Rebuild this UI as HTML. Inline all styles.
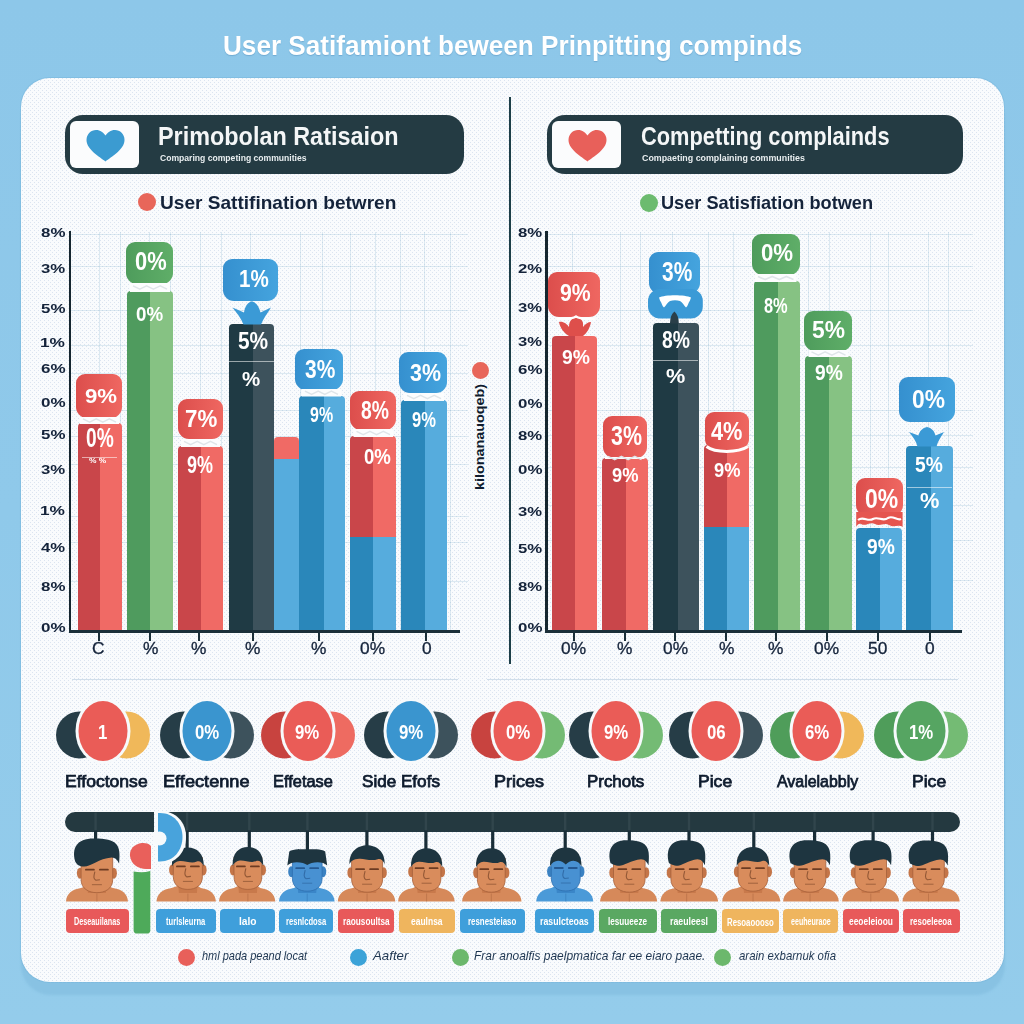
<!DOCTYPE html><html><head><meta charset="utf-8"><title>User Satisfaction</title><style>*{margin:0;padding:0;box-sizing:border-box}html,body{width:1024px;height:1024px;overflow:hidden}body{position:relative;background:linear-gradient(180deg,#8dc7e9 0,#8fc9ea 50%,#94cceb 100%);font-family:"Liberation Sans",sans-serif}.r{position:absolute}.t{position:absolute;white-space:nowrap;transform-origin:0 0;font-weight:bold}</style></head><body>
<div class="r" style="left:21.0px;top:89.0px;width:983.5px;height:905.8px;background:#88c2e3;border-radius:30.0px;filter:blur(0.8px);"></div>
<div class="r" style="left:20.8px;top:77.5px;width:983.6px;height:904.8px;background:#f9fbfd;border-radius:29.0px;box-shadow:0 0 0 1px rgba(110,175,215,0.35);"></div>
<svg class="r" style="left:0;top:0" width="1024" height="1024" viewBox="0 0 1024 1024"><defs><pattern id="dots" width="4" height="4" patternUnits="userSpaceOnUse"><rect x="0" y="0" width="1" height="1" fill="rgba(190,205,228,0.5)"/><rect x="2" y="2" width="1" height="1" fill="rgba(190,205,228,0.5)"/></pattern></defs><rect x="20.8" y="77.5" width="983.6" height="904.8" rx="29" fill="url(#dots)"/></svg>
<div class="t" style="left:223.03px;top:29.80px;font-size:28.55px;line-height:31.891px;color:#ffffff;transform:scaleX(0.9155);text-shadow:0 1px 1px rgba(60,120,170,.35);">User Satifamiont beween Prinpitting compinds</div>
<div class="r" style="left:64.5px;top:115.2px;width:399.0px;height:59.3px;background:#243b43;border-radius:18.0px;"></div>
<div class="r" style="left:70.0px;top:120.8px;width:69.0px;height:47.4px;background:#fbfcfd;border-radius:6.0px;"></div>
<svg class="r" style="left:84.5px;top:129px" width="42" height="34" viewBox="0 0 42 34"><path d="M20.5 32.5 C15 28 1.5 20.5 1.5 11 C1.5 5 6 1 11 1 C15.5 1 18.5 3.5 20.5 6.5 C22.5 3.5 25.5 1 30 1 C35 1 39.5 5 39.5 11 C39.5 20.5 26 28 20.5 32.5 Z" fill="#3b9bd1"/></svg>
<div class="t" style="left:158.36px;top:121.50px;font-size:25.22px;line-height:28.168px;color:#f4f6f7;transform:scaleX(0.9279);">Primobolan Ratisaion</div>
<div class="t" style="left:159.66px;top:153.55px;font-size:8.51px;line-height:9.506px;color:#e9eef0;transform:scaleX(1.0103);">Comparing competing communities</div>
<div class="r" style="left:546.7px;top:115.2px;width:416.1px;height:59.3px;background:#243b43;border-radius:18.0px;"></div>
<div class="r" style="left:552.2px;top:120.8px;width:69.0px;height:47.4px;background:#fbfcfd;border-radius:6.0px;"></div>
<svg class="r" style="left:566.7px;top:129px" width="42" height="34" viewBox="0 0 42 34"><path d="M20.5 32.5 C15 28 1.5 20.5 1.5 11 C1.5 5 6 1 11 1 C15.5 1 18.5 3.5 20.5 6.5 C22.5 3.5 25.5 1 30 1 C35 1 39.5 5 39.5 11 C39.5 20.5 26 28 20.5 32.5 Z" fill="#e8605a"/></svg>
<div class="t" style="left:641.33px;top:121.50px;font-size:25.22px;line-height:28.168px;color:#f4f6f7;transform:scaleX(0.8653);">Competting complainds</div>
<div class="t" style="left:641.85px;top:153.55px;font-size:8.51px;line-height:9.506px;color:#e9eef0;transform:scaleX(1.0422);">Compaeting complaining communities</div>
<div class="r" style="left:137.5px;top:193px;width:18px;height:18px;border-radius:50%;background:#e8665a"></div>
<div class="t" style="left:160.45px;top:192.25px;font-size:19.28px;line-height:21.531px;color:#14233a;transform:scaleX(0.9902);">User Sattifination betwren</div>
<div class="r" style="left:639.5px;top:194px;width:18px;height:18px;border-radius:50%;background:#6cbb6f"></div>
<div class="t" style="left:660.71px;top:192.45px;font-size:19.28px;line-height:21.531px;color:#14233a;transform:scaleX(0.9433);">User Satisfiation botwen</div>
<div class="r" style="left:509.3px;top:97.0px;width:2.1px;height:566.5px;background:#1d3f48;"></div>
<div class="r" style="left:98.5px;top:232.0px;width:1.0px;height:399.7px;background:rgba(120,170,200,0.22);"></div>
<div class="r" style="left:119.5px;top:232.0px;width:1.0px;height:399.7px;background:rgba(120,170,200,0.22);"></div>
<div class="r" style="left:148.5px;top:232.0px;width:1.0px;height:399.7px;background:rgba(120,170,200,0.22);"></div>
<div class="r" style="left:169.5px;top:232.0px;width:1.0px;height:399.7px;background:rgba(120,170,200,0.22);"></div>
<div class="r" style="left:199.5px;top:232.0px;width:1.0px;height:399.7px;background:rgba(120,170,200,0.22);"></div>
<div class="r" style="left:220.5px;top:232.0px;width:1.0px;height:399.7px;background:rgba(120,170,200,0.22);"></div>
<div class="r" style="left:249.5px;top:232.0px;width:1.0px;height:399.7px;background:rgba(120,170,200,0.22);"></div>
<div class="r" style="left:299.5px;top:232.0px;width:1.0px;height:399.7px;background:rgba(120,170,200,0.22);"></div>
<div class="r" style="left:321.5px;top:232.0px;width:1.0px;height:399.7px;background:rgba(120,170,200,0.22);"></div>
<div class="r" style="left:349.5px;top:232.0px;width:1.0px;height:399.7px;background:rgba(120,170,200,0.22);"></div>
<div class="r" style="left:374.5px;top:232.0px;width:1.0px;height:399.7px;background:rgba(120,170,200,0.22);"></div>
<div class="r" style="left:399.5px;top:232.0px;width:1.0px;height:399.7px;background:rgba(120,170,200,0.22);"></div>
<div class="r" style="left:423.5px;top:232.0px;width:1.0px;height:399.7px;background:rgba(120,170,200,0.22);"></div>
<div class="r" style="left:449.5px;top:232.0px;width:1.0px;height:399.7px;background:rgba(120,170,200,0.22);"></div>
<div class="r" style="left:70.2px;top:233.5px;width:397.8px;height:1.0px;background:rgba(120,170,200,0.22);"></div>
<div class="r" style="left:70.2px;top:265.5px;width:397.8px;height:1.0px;background:rgba(120,170,200,0.22);"></div>
<div class="r" style="left:70.2px;top:309.5px;width:397.8px;height:1.0px;background:rgba(120,170,200,0.22);"></div>
<div class="r" style="left:70.2px;top:345.1px;width:397.8px;height:1.0px;background:rgba(120,170,200,0.22);"></div>
<div class="r" style="left:70.2px;top:372.9px;width:397.8px;height:1.0px;background:rgba(120,170,200,0.22);"></div>
<div class="r" style="left:70.2px;top:410.4px;width:397.8px;height:1.0px;background:rgba(120,170,200,0.22);"></div>
<div class="r" style="left:70.2px;top:436.1px;width:397.8px;height:1.0px;background:rgba(120,170,200,0.22);"></div>
<div class="r" style="left:70.2px;top:464.3px;width:397.8px;height:1.0px;background:rgba(120,170,200,0.22);"></div>
<div class="r" style="left:70.2px;top:515.8px;width:397.8px;height:1.0px;background:rgba(120,170,200,0.22);"></div>
<div class="r" style="left:70.2px;top:541.5px;width:397.8px;height:1.0px;background:rgba(120,170,200,0.22);"></div>
<div class="r" style="left:70.2px;top:581.3px;width:397.8px;height:1.0px;background:rgba(120,170,200,0.22);"></div>
<div class="r" style="left:77.5px;top:423.0px;width:44.7px;height:208.0px;background:linear-gradient(90deg,#c9464a 0,#c9464a 49.89%,#f06a65 49.89%,#f06a65 100%);border-radius:4px 4px 0 0;"></div>
<div class="r" style="left:127.2px;top:291.0px;width:45.8px;height:340.0px;background:linear-gradient(90deg,#4f9b5e 0,#4f9b5e 50.87%,#86c283 50.87%,#86c283 100%);border-radius:4px 4px 0 0;"></div>
<div class="r" style="left:177.6px;top:446.0px;width:45.7px;height:185.0px;background:linear-gradient(90deg,#c9464a 0,#c9464a 50.33%,#f06a65 50.33%,#f06a65 100%);border-radius:4px 4px 0 0;"></div>
<div class="r" style="left:228.5px;top:324.0px;width:45.7px;height:307.0px;background:linear-gradient(90deg,#1f3a44 0,#1f3a44 52.74%,#3d525c 52.74%,#3d525c 100%);border-radius:4px 4px 0 0;"></div>
<div class="r" style="left:274.2px;top:437.3px;width:24.6px;height:21.7px;background:linear-gradient(90deg,#f06a65 0,#f06a65 47.97%,#f06a65 47.97%,#f06a65 100%);border-radius:4px 4px 0 0;"></div>
<div class="r" style="left:274.2px;top:459.0px;width:24.6px;height:172.0px;background:linear-gradient(90deg,#56acdd 0,#56acdd 47.97%,#56acdd 47.97%,#56acdd 100%);"></div>
<div class="r" style="left:299.0px;top:395.6px;width:45.8px;height:235.4px;background:linear-gradient(90deg,#2a87ba 0,#2a87ba 53.93%,#56acdd 53.93%,#56acdd 100%);border-radius:4px 4px 0 0;"></div>
<div class="r" style="left:350.0px;top:436.0px;width:46.4px;height:100.7px;background:linear-gradient(90deg,#c9464a 0,#c9464a 51.08%,#f06a65 51.08%,#f06a65 100%);border-radius:4px 4px 0 0;"></div>
<div class="r" style="left:350.0px;top:536.7px;width:46.4px;height:94.3px;background:linear-gradient(90deg,#2a87ba 0,#2a87ba 51.08%,#56acdd 51.08%,#56acdd 100%);"></div>
<div class="r" style="left:400.6px;top:400.3px;width:46.9px;height:230.7px;background:linear-gradient(90deg,#2a87ba 0,#2a87ba 53.09%,#56acdd 53.09%,#56acdd 100%);border-radius:4px 4px 0 0;"></div>
<div class="r" style="left:76.0px;top:373.5px;width:46.3px;height:44.5px;background:linear-gradient(90deg,#dc4e4c,#ef6761);border-radius:9px 9px 11px 11px;"></div><div class="t" style="left:84.73px;top:384.67px;font-size:20.14px;line-height:22.497px;color:#ffffff;transform:scaleX(1.1037);">9%</div>
<div class="r" style="left:126.2px;top:241.8px;width:46.6px;height:41.9px;background:linear-gradient(90deg,#4e9c5c,#5fae68);border-radius:9px 9px 11px 11px;"></div><div class="t" style="left:135.42px;top:248.21px;font-size:24.93px;line-height:27.846px;color:#ffffff;transform:scaleX(0.8778);">0%</div>
<div class="r" style="left:177.7px;top:398.7px;width:45.2px;height:40.8px;background:linear-gradient(90deg,#dc4e4c,#ef6761);border-radius:9px 9px 11px 11px;"></div><div class="t" style="left:184.91px;top:405.24px;font-size:24.79px;line-height:27.689px;color:#ffffff;transform:scaleX(0.9004);">7%</div>
<div class="r" style="left:223.3px;top:259.0px;width:54.7px;height:42.0px;background:linear-gradient(90deg,#3590cf,#45a4de);border-radius:9px 9px 11px 11px;"></div><div class="t" style="left:238.96px;top:266.20px;font-size:23.52px;line-height:26.273px;color:#ffffff;transform:scaleX(0.8753);">1%</div>
<div class="r" style="left:295.0px;top:348.7px;width:48.2px;height:41.1px;background:linear-gradient(90deg,#3590cf,#45a4de);border-radius:9px 9px 11px 11px;"></div><div class="t" style="left:305.28px;top:355.23px;font-size:26.34px;line-height:29.420px;color:#ffffff;transform:scaleX(0.7946);">3%</div>
<div class="r" style="left:350.2px;top:390.5px;width:46.2px;height:39.1px;background:linear-gradient(90deg,#dc4e4c,#ef6761);border-radius:9px 9px 11px 11px;"></div><div class="t" style="left:361.42px;top:396.23px;font-size:26.34px;line-height:29.420px;color:#ffffff;transform:scaleX(0.7348);">8%</div>
<div class="r" style="left:398.7px;top:352.3px;width:48.8px;height:41.0px;background:linear-gradient(90deg,#3590cf,#45a4de);border-radius:9px 9px 11px 11px;"></div><div class="t" style="left:409.57px;top:359.04px;font-size:24.79px;line-height:27.689px;color:#ffffff;transform:scaleX(0.8644);">3%</div>
<div class="t" style="left:86.43px;top:423.11px;font-size:27.46px;line-height:30.678px;color:#ffffff;transform:scaleX(0.6992);">0%</div>
<div class="r" style="left:82.2px;top:456.6px;width:34.4px;height:1.2px;background:rgba(255,255,255,0.55);"></div>
<div class="t" style="left:135.55px;top:302.94px;font-size:20.28px;line-height:22.655px;color:#ffffff;transform:scaleX(0.9254);">0%</div>
<div class="t" style="left:186.66px;top:452.88px;font-size:23.10px;line-height:25.801px;color:#ffffff;transform:scaleX(0.7786);">9%</div>
<div class="t" style="left:237.87px;top:328.12px;font-size:23.38px;line-height:26.116px;color:#ffffff;transform:scaleX(0.8923);">5%</div>
<div class="r" style="left:229.0px;top:360.6px;width:45.0px;height:1.2px;background:rgba(255,255,255,0.55);"></div>
<div class="t" style="left:242.39px;top:366.67px;font-size:21.13px;line-height:23.599px;color:#ffffff;transform:scaleX(0.9692);">%</div>
<div class="t" style="left:309.92px;top:404.22px;font-size:21.41px;line-height:23.913px;color:#ffffff;transform:scaleX(0.7460);">9%</div>
<div class="t" style="left:363.56px;top:445.19px;font-size:21.55px;line-height:24.071px;color:#ffffff;transform:scaleX(0.8642);">0%</div>
<div class="t" style="left:411.80px;top:408.92px;font-size:21.41px;line-height:23.913px;color:#ffffff;transform:scaleX(0.7729);">9%</div>
<div class="r" style="left:68.9px;top:231.0px;width:2.6px;height:402.2px;background:#15262f;"></div>
<div class="r" style="left:68.9px;top:630.2px;width:391.4px;height:3.3px;background:#1b2f39;"></div>
<div class="t" style="left:40.99px;top:226.78px;font-size:12.11px;line-height:13.530px;color:#14233a;transform:scaleX(1.3958);">8%</div>
<div class="t" style="left:41.16px;top:263.28px;font-size:12.11px;line-height:13.530px;color:#14233a;transform:scaleX(1.3858);">3%</div>
<div class="t" style="left:40.99px;top:303.28px;font-size:12.11px;line-height:13.530px;color:#14233a;transform:scaleX(1.3958);">5%</div>
<div class="t" style="left:40.46px;top:336.78px;font-size:12.11px;line-height:13.530px;color:#14233a;transform:scaleX(1.4266);">1%</div>
<div class="t" style="left:40.82px;top:362.78px;font-size:12.11px;line-height:13.530px;color:#14233a;transform:scaleX(1.4059);">6%</div>
<div class="t" style="left:40.82px;top:396.88px;font-size:12.11px;line-height:13.530px;color:#14233a;transform:scaleX(1.4059);">0%</div>
<div class="t" style="left:40.99px;top:428.78px;font-size:12.11px;line-height:13.530px;color:#14233a;transform:scaleX(1.3958);">5%</div>
<div class="t" style="left:41.16px;top:463.78px;font-size:12.11px;line-height:13.530px;color:#14233a;transform:scaleX(1.3858);">3%</div>
<div class="t" style="left:40.46px;top:504.78px;font-size:12.11px;line-height:13.530px;color:#14233a;transform:scaleX(1.4266);">1%</div>
<div class="t" style="left:41.33px;top:542.28px;font-size:12.11px;line-height:13.530px;color:#14233a;transform:scaleX(1.3760);">4%</div>
<div class="t" style="left:40.99px;top:580.88px;font-size:12.11px;line-height:13.530px;color:#14233a;transform:scaleX(1.3958);">8%</div>
<div class="t" style="left:40.82px;top:621.98px;font-size:12.11px;line-height:13.530px;color:#14233a;transform:scaleX(1.4059);">0%</div>
<div class="r" style="left:97.6px;top:631.7px;width:2.0px;height:9.5px;background:#1b2f39;"></div>
<div class="t" style="left:92.28px;top:639.14px;font-size:16.50px;line-height:18.430px;color:#14233a;font-weight:normal;transform:scaleX(1.0500);-webkit-text-stroke:0.3px #14233a;">C</div>
<div class="r" style="left:149.4px;top:631.7px;width:2.0px;height:9.5px;background:#1b2f39;"></div>
<div class="t" style="left:142.78px;top:639.06px;font-size:16.50px;line-height:18.430px;color:#14233a;font-weight:normal;transform:scaleX(1.0500);-webkit-text-stroke:0.3px #14233a;">%</div>
<div class="r" style="left:198.0px;top:631.7px;width:2.0px;height:9.5px;background:#1b2f39;"></div>
<div class="t" style="left:191.38px;top:639.06px;font-size:16.50px;line-height:18.430px;color:#14233a;font-weight:normal;transform:scaleX(1.0500);-webkit-text-stroke:0.3px #14233a;">%</div>
<div class="r" style="left:251.6px;top:631.7px;width:2.0px;height:9.5px;background:#1b2f39;"></div>
<div class="t" style="left:244.98px;top:639.06px;font-size:16.50px;line-height:18.430px;color:#14233a;font-weight:normal;transform:scaleX(1.0500);-webkit-text-stroke:0.3px #14233a;">%</div>
<div class="r" style="left:317.5px;top:631.7px;width:2.0px;height:9.5px;background:#1b2f39;"></div>
<div class="t" style="left:310.88px;top:639.06px;font-size:16.50px;line-height:18.430px;color:#14233a;font-weight:normal;transform:scaleX(1.0500);-webkit-text-stroke:0.3px #14233a;">%</div>
<div class="r" style="left:371.5px;top:631.7px;width:2.0px;height:9.5px;background:#1b2f39;"></div>
<div class="t" style="left:359.94px;top:639.14px;font-size:16.50px;line-height:18.430px;color:#14233a;font-weight:normal;transform:scaleX(1.0500);-webkit-text-stroke:0.3px #14233a;">0%</div>
<div class="r" style="left:425.4px;top:631.7px;width:2.0px;height:9.5px;background:#1b2f39;"></div>
<div class="t" style="left:421.55px;top:639.14px;font-size:16.50px;line-height:18.430px;color:#14233a;font-weight:normal;transform:scaleX(1.0500);-webkit-text-stroke:0.3px #14233a;">0</div>
<div class="r" style="left:572.1px;top:232.0px;width:1.0px;height:399.7px;background:rgba(120,170,200,0.22);"></div>
<div class="r" style="left:620.2px;top:232.0px;width:1.0px;height:399.7px;background:rgba(120,170,200,0.22);"></div>
<div class="r" style="left:639.5px;top:232.0px;width:1.0px;height:399.7px;background:rgba(120,170,200,0.22);"></div>
<div class="r" style="left:671.8px;top:232.0px;width:1.0px;height:399.7px;background:rgba(120,170,200,0.22);"></div>
<div class="r" style="left:708.4px;top:232.0px;width:1.0px;height:399.7px;background:rgba(120,170,200,0.22);"></div>
<div class="r" style="left:732.5px;top:232.0px;width:1.0px;height:399.7px;background:rgba(120,170,200,0.22);"></div>
<div class="r" style="left:807.5px;top:232.0px;width:1.0px;height:399.7px;background:rgba(120,170,200,0.22);"></div>
<div class="r" style="left:829.0px;top:232.0px;width:1.0px;height:399.7px;background:rgba(120,170,200,0.22);"></div>
<div class="r" style="left:869.5px;top:232.0px;width:1.0px;height:399.7px;background:rgba(120,170,200,0.22);"></div>
<div class="r" style="left:887.5px;top:232.0px;width:1.0px;height:399.7px;background:rgba(120,170,200,0.22);"></div>
<div class="r" style="left:928.0px;top:232.0px;width:1.0px;height:399.7px;background:rgba(120,170,200,0.22);"></div>
<div class="r" style="left:948.4px;top:232.0px;width:1.0px;height:399.7px;background:rgba(120,170,200,0.22);"></div>
<div class="r" style="left:546.6px;top:234.2px;width:426.4px;height:1.0px;background:rgba(120,170,200,0.22);"></div>
<div class="r" style="left:546.6px;top:266.0px;width:426.4px;height:1.0px;background:rgba(120,170,200,0.22);"></div>
<div class="r" style="left:546.6px;top:309.5px;width:426.4px;height:1.0px;background:rgba(120,170,200,0.22);"></div>
<div class="r" style="left:546.6px;top:345.2px;width:426.4px;height:1.0px;background:rgba(120,170,200,0.22);"></div>
<div class="r" style="left:546.6px;top:410.0px;width:426.4px;height:1.0px;background:rgba(120,170,200,0.22);"></div>
<div class="r" style="left:546.6px;top:435.3px;width:426.4px;height:1.0px;background:rgba(120,170,200,0.22);"></div>
<div class="r" style="left:546.6px;top:467.1px;width:426.4px;height:1.0px;background:rgba(120,170,200,0.22);"></div>
<div class="r" style="left:546.6px;top:504.5px;width:426.4px;height:1.0px;background:rgba(120,170,200,0.22);"></div>
<div class="r" style="left:546.6px;top:539.5px;width:426.4px;height:1.0px;background:rgba(120,170,200,0.22);"></div>
<div class="r" style="left:546.6px;top:579.5px;width:426.4px;height:1.0px;background:rgba(120,170,200,0.22);"></div>
<div class="r" style="left:552.0px;top:336.0px;width:45.3px;height:295.0px;background:linear-gradient(90deg,#c9464a 0,#c9464a 50.77%,#f06a65 50.77%,#f06a65 100%);border-radius:4px 4px 0 0;"></div>
<div class="r" style="left:601.7px;top:458.3px;width:46.3px;height:172.7px;background:linear-gradient(90deg,#c9464a 0,#c9464a 52.05%,#f06a65 52.05%,#f06a65 100%);border-radius:4px 4px 0 0;"></div>
<div class="r" style="left:652.8px;top:323.0px;width:45.9px;height:308.0px;background:linear-gradient(90deg,#1f3a44 0,#1f3a44 53.59%,#3d525c 53.59%,#3d525c 100%);border-radius:4px 4px 0 0;"></div>
<div class="r" style="left:703.8px;top:445.0px;width:45.7px;height:81.8px;background:linear-gradient(90deg,#c9464a 0,#c9464a 51.64%,#f06a65 51.64%,#f06a65 100%);border-radius:4px 4px 0 0;"></div>
<div class="r" style="left:703.8px;top:526.8px;width:45.7px;height:104.2px;background:linear-gradient(90deg,#2a87ba 0,#2a87ba 51.64%,#56acdd 51.64%,#56acdd 100%);"></div>
<div class="r" style="left:754.0px;top:281.0px;width:45.8px;height:350.0px;background:linear-gradient(90deg,#4f9b5e 0,#4f9b5e 51.31%,#86c283 51.31%,#86c283 100%);border-radius:4px 4px 0 0;"></div>
<div class="r" style="left:805.4px;top:355.9px;width:46.5px;height:275.1px;background:linear-gradient(90deg,#4f9b5e 0,#4f9b5e 51.83%,#86c283 51.83%,#86c283 100%);border-radius:4px 4px 0 0;"></div>
<div class="r" style="left:856.0px;top:527.6px;width:46.0px;height:103.4px;background:linear-gradient(90deg,#2a87ba 0,#2a87ba 51.74%,#56acdd 51.74%,#56acdd 100%);border-radius:4px 4px 0 0;"></div>
<div class="r" style="left:906.2px;top:446.3px;width:46.5px;height:184.7px;background:linear-gradient(90deg,#2a87ba 0,#2a87ba 53.33%,#56acdd 53.33%,#56acdd 100%);border-radius:4px 4px 0 0;"></div>
<div class="r" style="left:548.0px;top:272.0px;width:52.3px;height:45.3px;background:linear-gradient(90deg,#dc4e4c,#ef6761);border-radius:9px 9px 11px 11px;"></div><div class="t" style="left:559.66px;top:278.80px;font-size:24.51px;line-height:27.374px;color:#ffffff;transform:scaleX(0.8660);">9%</div>
<div class="r" style="left:602.7px;top:415.7px;width:44.5px;height:42.3px;background:linear-gradient(90deg,#dc4e4c,#ef6761);border-radius:9px 9px 11px 11px;"></div><div class="t" style="left:610.57px;top:420.54px;font-size:27.32px;line-height:30.521px;color:#ffffff;transform:scaleX(0.7842);">3%</div>
<div class="r" style="left:648.6px;top:252.2px;width:51.7px;height:41.8px;background:linear-gradient(90deg,#3590cf,#45a4de);border-radius:9px 9px 11px 11px;"></div><div class="t" style="left:662.28px;top:257.01px;font-size:27.46px;line-height:30.678px;color:#ffffff;transform:scaleX(0.7620);">3%</div>
<div class="r" style="left:704.6px;top:411.7px;width:44.2px;height:38.3px;background:linear-gradient(90deg,#dc4e4c,#ef6761);border-radius:9px 9px 11px 11px;"></div><div class="t" style="left:711.08px;top:417.29px;font-size:26.06px;line-height:29.105px;color:#ffffff;transform:scaleX(0.8356);">4%</div>
<div class="r" style="left:751.5px;top:234.0px;width:48.3px;height:40.6px;background:linear-gradient(90deg,#4e9c5c,#5fae68);border-radius:9px 9px 11px 11px;"></div><div class="t" style="left:761.11px;top:240.75px;font-size:23.24px;line-height:25.958px;color:#ffffff;transform:scaleX(0.9573);">0%</div>
<div class="r" style="left:804.0px;top:311.0px;width:47.9px;height:39.8px;background:linear-gradient(90deg,#4e9c5c,#5fae68);border-radius:9px 9px 11px 11px;"></div><div class="t" style="left:812.32px;top:318.15px;font-size:23.24px;line-height:25.958px;color:#ffffff;transform:scaleX(0.9813);">5%</div>
<div class="r" style="left:856.2px;top:478.0px;width:46.4px;height:38.0px;background:linear-gradient(90deg,#dc4e4c,#ef6761);border-radius:9px 9px 11px 11px;"></div><div class="t" style="left:865.38px;top:484.12px;font-size:26.90px;line-height:30.049px;color:#ffffff;transform:scaleX(0.8539);">0%</div>
<div class="r" style="left:899.3px;top:377.4px;width:55.9px;height:44.5px;background:linear-gradient(90deg,#3590cf,#45a4de);border-radius:9px 9px 11px 11px;"></div><div class="t" style="left:911.89px;top:385.09px;font-size:25.07px;line-height:28.004px;color:#ffffff;transform:scaleX(0.9105);">0%</div>
<div class="t" style="left:561.52px;top:346.06px;font-size:19.72px;line-height:22.025px;color:#ffffff;transform:scaleX(0.9814);">9%</div>
<div class="t" style="left:612.25px;top:463.07px;font-size:21.13px;line-height:23.599px;color:#ffffff;transform:scaleX(0.8683);">9%</div>
<div class="t" style="left:662.32px;top:327.88px;font-size:23.10px;line-height:25.801px;color:#ffffff;transform:scaleX(0.8378);">8%</div>
<div class="r" style="left:653.0px;top:360.0px;width:45.0px;height:1.2px;background:rgba(255,255,255,0.55);"></div>
<div class="t" style="left:666.47px;top:364.83px;font-size:19.86px;line-height:22.183px;color:#ffffff;transform:scaleX(1.0910);">%</div>
<div class="t" style="left:714.25px;top:459.06px;font-size:19.72px;line-height:22.025px;color:#ffffff;transform:scaleX(0.9304);">9%</div>
<div class="t" style="left:764.31px;top:293.75px;font-size:22.25px;line-height:24.857px;color:#ffffff;transform:scaleX(0.7371);">8%</div>
<div class="t" style="left:814.92px;top:361.72px;font-size:21.41px;line-height:23.913px;color:#ffffff;transform:scaleX(0.8972);">9%</div>
<div class="t" style="left:867.02px;top:536.02px;font-size:21.41px;line-height:23.913px;color:#ffffff;transform:scaleX(0.8972);">9%</div>
<div class="t" style="left:915.22px;top:453.52px;font-size:21.41px;line-height:23.913px;color:#ffffff;transform:scaleX(0.8972);">5%</div>
<div class="r" style="left:907.0px;top:487.1px;width:45.0px;height:1.2px;background:rgba(255,255,255,0.55);"></div>
<div class="t" style="left:919.96px;top:488.99px;font-size:21.55px;line-height:24.071px;color:#ffffff;transform:scaleX(1.0110);">%</div>
<div class="r" style="left:545.3px;top:231.0px;width:2.6px;height:402.2px;background:#15262f;"></div>
<div class="r" style="left:545.3px;top:630.2px;width:416.7px;height:3.3px;background:#1b2f39;"></div>
<div class="t" style="left:518.00px;top:226.78px;font-size:12.11px;line-height:13.530px;color:#14233a;transform:scaleX(1.3839);">8%</div>
<div class="t" style="left:518.00px;top:262.98px;font-size:12.11px;line-height:13.530px;color:#14233a;transform:scaleX(1.3839);">2%</div>
<div class="t" style="left:518.17px;top:302.28px;font-size:12.11px;line-height:13.530px;color:#14233a;transform:scaleX(1.3740);">3%</div>
<div class="t" style="left:518.17px;top:336.28px;font-size:12.11px;line-height:13.530px;color:#14233a;transform:scaleX(1.3740);">3%</div>
<div class="t" style="left:517.82px;top:364.28px;font-size:12.11px;line-height:13.530px;color:#14233a;transform:scaleX(1.3939);">6%</div>
<div class="t" style="left:517.82px;top:398.28px;font-size:12.11px;line-height:13.530px;color:#14233a;transform:scaleX(1.3939);">0%</div>
<div class="t" style="left:518.00px;top:430.08px;font-size:12.11px;line-height:13.530px;color:#14233a;transform:scaleX(1.3839);">8%</div>
<div class="t" style="left:517.82px;top:463.78px;font-size:12.11px;line-height:13.530px;color:#14233a;transform:scaleX(1.3939);">0%</div>
<div class="t" style="left:518.17px;top:505.68px;font-size:12.11px;line-height:13.530px;color:#14233a;transform:scaleX(1.3740);">3%</div>
<div class="t" style="left:518.00px;top:542.98px;font-size:12.11px;line-height:13.530px;color:#14233a;transform:scaleX(1.3839);">5%</div>
<div class="t" style="left:518.00px;top:580.58px;font-size:12.11px;line-height:13.530px;color:#14233a;transform:scaleX(1.3839);">8%</div>
<div class="t" style="left:517.82px;top:622.48px;font-size:12.11px;line-height:13.530px;color:#14233a;transform:scaleX(1.3939);">0%</div>
<div class="r" style="left:572.8px;top:631.7px;width:2.0px;height:9.5px;background:#1b2f39;"></div>
<div class="t" style="left:561.24px;top:639.14px;font-size:16.50px;line-height:18.430px;color:#14233a;font-weight:normal;transform:scaleX(1.0500);-webkit-text-stroke:0.3px #14233a;">0%</div>
<div class="r" style="left:623.6px;top:631.7px;width:2.0px;height:9.5px;background:#1b2f39;"></div>
<div class="t" style="left:616.98px;top:639.06px;font-size:16.50px;line-height:18.430px;color:#14233a;font-weight:normal;transform:scaleX(1.0500);-webkit-text-stroke:0.3px #14233a;">%</div>
<div class="r" style="left:674.4px;top:631.7px;width:2.0px;height:9.5px;background:#1b2f39;"></div>
<div class="t" style="left:662.84px;top:639.14px;font-size:16.50px;line-height:18.430px;color:#14233a;font-weight:normal;transform:scaleX(1.0500);-webkit-text-stroke:0.3px #14233a;">0%</div>
<div class="r" style="left:725.2px;top:631.7px;width:2.0px;height:9.5px;background:#1b2f39;"></div>
<div class="t" style="left:718.58px;top:639.06px;font-size:16.50px;line-height:18.430px;color:#14233a;font-weight:normal;transform:scaleX(1.0500);-webkit-text-stroke:0.3px #14233a;">%</div>
<div class="r" style="left:775.0px;top:631.7px;width:2.0px;height:9.5px;background:#1b2f39;"></div>
<div class="t" style="left:768.38px;top:639.06px;font-size:16.50px;line-height:18.430px;color:#14233a;font-weight:normal;transform:scaleX(1.0500);-webkit-text-stroke:0.3px #14233a;">%</div>
<div class="r" style="left:826.0px;top:631.7px;width:2.0px;height:9.5px;background:#1b2f39;"></div>
<div class="t" style="left:814.44px;top:639.14px;font-size:16.50px;line-height:18.430px;color:#14233a;font-weight:normal;transform:scaleX(1.0500);-webkit-text-stroke:0.3px #14233a;">0%</div>
<div class="r" style="left:876.8px;top:631.7px;width:2.0px;height:9.5px;background:#1b2f39;"></div>
<div class="t" style="left:868.18px;top:639.14px;font-size:16.50px;line-height:18.430px;color:#14233a;font-weight:normal;transform:scaleX(1.0500);-webkit-text-stroke:0.3px #14233a;">50</div>
<div class="r" style="left:928.8px;top:631.7px;width:2.0px;height:9.5px;background:#1b2f39;"></div>
<div class="t" style="left:924.95px;top:639.14px;font-size:16.50px;line-height:18.430px;color:#14233a;font-weight:normal;transform:scaleX(1.0500);-webkit-text-stroke:0.3px #14233a;">0</div>
<div class="r" style="left:471.8px;top:361.8px;width:17px;height:17px;border-radius:50%;background:#e8665a"></div>
<div class="t" style="left:473.28px;top:490.31px;font-size:13.09px;line-height:14.616px;color:#0f1c2e;transform:rotate(-90deg) scaleX(1.0985)">kilonanauoqeb)</div>
<div class="r" style="left:72.0px;top:678.5px;width:386.0px;height:1.0px;background:rgba(150,180,205,0.4);"></div>
<div class="r" style="left:487.0px;top:678.5px;width:471.0px;height:1.0px;background:rgba(150,180,205,0.4);"></div>
<div class="t" style="left:89.39px;top:457.12px;font-size:7.00px;line-height:7.819px;color:#ffffff;transform:scaleX(1.2000);">% %</div>
<svg class="r" style="left:0;top:0" width="1024" height="1024" viewBox="0 0 1024 1024"><rect x="80.0" y="417.0" width="39.0" height="7.0" fill="#fcfdfe"/><polyline points="83.0,418.9 89.6,422.1 96.2,418.9 102.8,422.1 109.4,418.9 116.0,422.1" fill="none" stroke="#dfe5e9" stroke-width="1.6" stroke-linejoin="round"/><rect x="130.0" y="283.0" width="40.0" height="9.0" fill="#fcfdfe"/><polyline points="133.0,285.9 139.8,289.1 146.6,285.9 153.4,289.1 160.2,285.9 167.0,289.1" fill="none" stroke="#dfe5e9" stroke-width="1.6" stroke-linejoin="round"/><rect x="181.0" y="439.0" width="39.0" height="8.0" fill="#fcfdfe"/><polyline points="184.0,441.4 190.6,444.6 197.2,441.4 203.8,444.6 210.4,441.4 217.0,444.6" fill="none" stroke="#dfe5e9" stroke-width="1.6" stroke-linejoin="round"/><rect x="302.0" y="389.0" width="39.0" height="7.5" fill="#fcfdfe"/><polyline points="305.0,391.1 311.6,394.4 318.2,391.1 324.8,394.4 331.4,391.1 338.0,394.4" fill="none" stroke="#dfe5e9" stroke-width="1.6" stroke-linejoin="round"/><rect x="353.5" y="429.0" width="39.5" height="8.0" fill="#fcfdfe"/><polyline points="356.5,431.4 363.2,434.6 369.9,431.4 376.6,434.6 383.3,431.4 390.0,434.6" fill="none" stroke="#dfe5e9" stroke-width="1.6" stroke-linejoin="round"/><rect x="404.0" y="393.0" width="40.0" height="8.0" fill="#fcfdfe"/><polyline points="407.0,395.4 413.8,398.6 420.6,395.4 427.4,398.6 434.2,395.4 441.0,398.6" fill="none" stroke="#dfe5e9" stroke-width="1.6" stroke-linejoin="round"/><rect x="755.0" y="274.0" width="41.5" height="8.0" fill="#fcfdfe"/><polyline points="758.0,276.4 765.1,279.6 772.2,276.4 779.3,279.6 786.4,276.4 793.5,279.6" fill="none" stroke="#dfe5e9" stroke-width="1.6" stroke-linejoin="round"/><rect x="808.5" y="350.0" width="40.0" height="7.0" fill="#fcfdfe"/><polyline points="811.5,351.9 818.3,355.1 825.1,351.9 831.9,355.1 838.7,351.9 845.5,355.1" fill="none" stroke="#dfe5e9" stroke-width="1.6" stroke-linejoin="round"/><rect x="605.0" y="457.0" width="39.5" height="2.0" fill="#fcfdfe"/><polyline points="608.0,456.4 614.7,459.6 621.4,456.4 628.1,459.6 634.8,456.4 641.5,459.6" fill="none" stroke="#dfe5e9" stroke-width="1.6" stroke-linejoin="round"/><path d="M 232.5 307.5 L 244 312.5 C 245 306 248 302.5 252 301.3 C 256 302.5 259 306 260.5 312.5 L 271 307.5 C 267.5 313 263.5 318.5 261 324.5 L 243.5 324.5 C 241 318.5 237 313 232.5 307.5 Z" fill="#3b9ad6"/><path d="M 559 322 C 563 321 567 324 569 327 C 569 320 573 317.5 576 317.5 C 580 317.5 584 320 583 327 C 585 324 588 322 591 322 C 590 328 587 333 583 336 L 569 336 C 564 333 560 328 559 322 Z" fill="#de4f4b"/><path d="M 557 319.5 C 565 318 570 320 576 316.5 C 582 320 588 318 595 319.5" fill="none" stroke="#ffffff" stroke-width="2.4"/><rect x="648" y="289" width="54.8" height="29.6" rx="12" fill="#3b9ad6"/><ellipse cx="646.5" cy="292" rx="3" ry="2.6" fill="#f6f9fc"/><ellipse cx="704.3" cy="292" rx="3" ry="2.6" fill="#f6f9fc"/><path d="M 659 297.5 C 665 294.5 685 294.5 691 297.5 L 690 300.5 C 688 303 688 306 686 307.5 C 684 306 683 302.5 680 301 C 677 300 673 300 670 301 C 667 302.5 666 306 664 307.5 C 662 306 662 303 660 300.5 Z" fill="#ffffff"/><path d="M 674.4 311.5 C 677.5 314 678.8 318 678.8 323.5 L 670 323.5 C 670 318 671.3 314 674.4 311.5 Z" fill="#2a3f49"/><path d="M 706.5 446.5 C 715 453 738 453 748 446.5" fill="none" stroke="#ffffff" stroke-width="3"/><path d="M 909 432 L 918.5 435.5 C 919.5 431 922.5 428 927 427 C 931.5 428 934.5 431 935.5 435.5 L 944 432 C 941 437 938 441 936.5 446.5 L 917.5 446.5 C 916 441 913 437 909 432 Z" fill="#3b9ad6"/><path d="M 856.2 512 L 902.6 512 L 902.6 527 C 898 524 894 528 889 525 C 884 522 880 527 875 524 C 870 521 866 527 861 524 C 859 523 857 525 856.2 527 Z" fill="#e5554f"/><path d="M 858 520 C 863 516 868 522 873 519 C 878 516 883 522 888 518 C 893 515 897 521 901 519" fill="none" stroke="#ffffff" stroke-width="2.2"/></svg>
<svg class="r" style="left:53.4px;top:695px" width="100" height="72" viewBox="-50 -36 100 72"><ellipse cx="-23.5" cy="4" rx="23.5" ry="23.5" fill="#263d47"/><ellipse cx="23.5" cy="4" rx="23.5" ry="23.5" fill="#f0b85a"/><ellipse cx="0" cy="0" rx="27.5" ry="33" fill="#f7fafc"/><ellipse cx="0" cy="0" rx="24.5" ry="30" fill="#ea5c57"/></svg>
<div class="t" style="left:98.44px;top:721.40px;font-size:20.00px;line-height:22.340px;color:#ffffff;transform:scaleX(0.8400);">1</div>
<div class="t" style="left:65.49px;top:771.56px;font-size:16.38px;line-height:18.293px;color:#0f1c2e;font-weight:normal;transform:scaleX(1.0733);-webkit-text-stroke:0.75px #0f1c2e;">Effoctonse</div>
<svg class="r" style="left:157.0px;top:695px" width="100" height="72" viewBox="-50 -36 100 72"><ellipse cx="-23.5" cy="4" rx="23.5" ry="23.5" fill="#263d47"/><ellipse cx="23.5" cy="4" rx="23.5" ry="23.5" fill="#3d525c"/><ellipse cx="0" cy="0" rx="27.5" ry="33" fill="#f7fafc"/><ellipse cx="0" cy="0" rx="24.5" ry="30" fill="#3a95cf"/></svg>
<div class="t" style="left:194.74px;top:721.40px;font-size:20.00px;line-height:22.340px;color:#ffffff;transform:scaleX(0.8400);">0%</div>
<div class="t" style="left:162.54px;top:771.56px;font-size:16.38px;line-height:18.293px;color:#0f1c2e;font-weight:normal;transform:scaleX(1.1107);-webkit-text-stroke:0.75px #0f1c2e;">Effectenne</div>
<svg class="r" style="left:257.6px;top:695px" width="100" height="72" viewBox="-50 -36 100 72"><ellipse cx="-23.5" cy="4" rx="23.5" ry="23.5" fill="#c8433f"/><ellipse cx="23.5" cy="4" rx="23.5" ry="23.5" fill="#ee6b61"/><ellipse cx="0" cy="0" rx="27.5" ry="33" fill="#f7fafc"/><ellipse cx="0" cy="0" rx="24.5" ry="30" fill="#ea5c57"/></svg>
<div class="t" style="left:295.42px;top:721.40px;font-size:20.00px;line-height:22.340px;color:#ffffff;transform:scaleX(0.8400);">9%</div>
<div class="t" style="left:272.69px;top:771.56px;font-size:16.38px;line-height:18.293px;color:#0f1c2e;font-weight:normal;transform:scaleX(1.0033);-webkit-text-stroke:0.75px #0f1c2e;">Effetase</div>
<svg class="r" style="left:361.0px;top:695px" width="100" height="72" viewBox="-50 -36 100 72"><ellipse cx="-23.5" cy="4" rx="23.5" ry="23.5" fill="#263d47"/><ellipse cx="23.5" cy="4" rx="23.5" ry="23.5" fill="#3d525c"/><ellipse cx="0" cy="0" rx="27.5" ry="33" fill="#f7fafc"/><ellipse cx="0" cy="0" rx="24.5" ry="30" fill="#3a95cf"/></svg>
<div class="t" style="left:398.82px;top:721.40px;font-size:20.00px;line-height:22.340px;color:#ffffff;transform:scaleX(0.8400);">9%</div>
<div class="t" style="left:361.64px;top:771.56px;font-size:16.38px;line-height:18.293px;color:#0f1c2e;font-weight:normal;transform:scaleX(1.0450);-webkit-text-stroke:0.75px #0f1c2e;">Side Efofs</div>
<svg class="r" style="left:467.8px;top:695px" width="100" height="72" viewBox="-50 -36 100 72"><ellipse cx="-23.5" cy="4" rx="23.5" ry="23.5" fill="#c8433f"/><ellipse cx="23.5" cy="4" rx="23.5" ry="23.5" fill="#74bb74"/><ellipse cx="0" cy="0" rx="27.5" ry="33" fill="#f7fafc"/><ellipse cx="0" cy="0" rx="24.5" ry="30" fill="#ea5c57"/></svg>
<div class="t" style="left:505.54px;top:721.40px;font-size:20.00px;line-height:22.340px;color:#ffffff;transform:scaleX(0.8400);">0%</div>
<div class="t" style="left:493.56px;top:771.56px;font-size:16.38px;line-height:18.293px;color:#0f1c2e;font-weight:normal;transform:scaleX(1.1019);-webkit-text-stroke:0.75px #0f1c2e;">Prices</div>
<svg class="r" style="left:566.0px;top:695px" width="100" height="72" viewBox="-50 -36 100 72"><ellipse cx="-23.5" cy="4" rx="23.5" ry="23.5" fill="#263d47"/><ellipse cx="23.5" cy="4" rx="23.5" ry="23.5" fill="#74bb74"/><ellipse cx="0" cy="0" rx="27.5" ry="33" fill="#f7fafc"/><ellipse cx="0" cy="0" rx="24.5" ry="30" fill="#ea5c57"/></svg>
<div class="t" style="left:603.82px;top:721.40px;font-size:20.00px;line-height:22.340px;color:#ffffff;transform:scaleX(0.8400);">9%</div>
<div class="t" style="left:587.35px;top:771.56px;font-size:16.38px;line-height:18.293px;color:#0f1c2e;font-weight:normal;transform:scaleX(1.0326);-webkit-text-stroke:0.75px #0f1c2e;">Prchots</div>
<svg class="r" style="left:666.0px;top:695px" width="100" height="72" viewBox="-50 -36 100 72"><ellipse cx="-23.5" cy="4" rx="23.5" ry="23.5" fill="#263d47"/><ellipse cx="23.5" cy="4" rx="23.5" ry="23.5" fill="#3d525c"/><ellipse cx="0" cy="0" rx="27.5" ry="33" fill="#f7fafc"/><ellipse cx="0" cy="0" rx="24.5" ry="30" fill="#ea5c57"/></svg>
<div class="t" style="left:706.59px;top:721.40px;font-size:20.00px;line-height:22.340px;color:#ffffff;transform:scaleX(0.8400);">06</div>
<div class="t" style="left:698.09px;top:771.56px;font-size:16.38px;line-height:18.293px;color:#0f1c2e;font-weight:normal;transform:scaleX(1.0736);-webkit-text-stroke:0.75px #0f1c2e;">Pice</div>
<svg class="r" style="left:767.0px;top:695px" width="100" height="72" viewBox="-50 -36 100 72"><ellipse cx="-23.5" cy="4" rx="23.5" ry="23.5" fill="#4f9d5a"/><ellipse cx="23.5" cy="4" rx="23.5" ry="23.5" fill="#f0b85a"/><ellipse cx="0" cy="0" rx="27.5" ry="33" fill="#f7fafc"/><ellipse cx="0" cy="0" rx="24.5" ry="30" fill="#ea5c57"/></svg>
<div class="t" style="left:804.74px;top:721.40px;font-size:20.00px;line-height:22.340px;color:#ffffff;transform:scaleX(0.8400);">6%</div>
<div class="t" style="left:777.40px;top:771.56px;font-size:16.38px;line-height:18.293px;color:#0f1c2e;font-weight:normal;transform:scaleX(0.9741);-webkit-text-stroke:0.75px #0f1c2e;">Avalelabbly</div>
<svg class="r" style="left:871.0px;top:695px" width="100" height="72" viewBox="-50 -36 100 72"><ellipse cx="-23.5" cy="4" rx="23.5" ry="23.5" fill="#4f9d5a"/><ellipse cx="23.5" cy="4" rx="23.5" ry="23.5" fill="#74bb74"/><ellipse cx="0" cy="0" rx="27.5" ry="33" fill="#f7fafc"/><ellipse cx="0" cy="0" rx="24.5" ry="30" fill="#56a562"/></svg>
<div class="t" style="left:908.57px;top:721.40px;font-size:20.00px;line-height:22.340px;color:#ffffff;transform:scaleX(0.8400);">1%</div>
<div class="t" style="left:912.19px;top:771.56px;font-size:16.38px;line-height:18.293px;color:#0f1c2e;font-weight:normal;transform:scaleX(1.0736);-webkit-text-stroke:0.75px #0f1c2e;">Pice</div>
<div class="r" style="left:65.3px;top:811.6px;width:88.7px;height:20.0px;background:#243940;border-radius:10px 0 0 10px;"></div>
<div class="r" style="left:166.0px;top:811.6px;width:793.7px;height:20.0px;background:#243940;border-radius:0 10px 10px 0;"></div>
<svg class="r" style="left:0;top:0" width="1024" height="1024" viewBox="0 0 1024 1024"><rect x="94.0" y="830" width="3.2" height="11.6" fill="#1a2e38"/><rect x="94.4" y="812.5" width="2.4" height="18" fill="#34484f" opacity="0.8"/><path d="M 66.0 901.6 C 66.5 893.5 72.0 889.5 81.0 888.0 L 87.9 885.5 L 105.9 885.5 L 113.0 888.0 C 122.0 889.5 127.5 893.5 128.0 901.6 Z" fill="#d6895a"/><path d="M 86.4 878.7 L 107.4 878.7 L 105.9 893 L 87.9 893 Z" fill="#c8794b"/><path d="M 96.9 893.5 L 96.9 901.6" stroke="#a5603a" stroke-width="0.9" opacity="0.5"/><ellipse cx="79.9" cy="873.2" rx="3" ry="5.5" fill="#c47548"/><ellipse cx="113.9" cy="873.2" rx="3" ry="5.5" fill="#c47548"/><path d="M 81.1 852.6 L 112.7 852.6 L 112.7 879.7 C 112.7 888.7 104.9 892.7 96.9 892.7 C 88.9 892.7 81.1 888.7 81.1 879.7 Z" fill="#d98c5c" stroke="#a5603a" stroke-width="0.8"/><path d="M 85.9 869.7 L 93.9 869.7 M 99.9 869.7 L 107.9 869.7" stroke="#5a2e18" stroke-width="1.8" stroke-linecap="round" opacity="0.85"/><path d="M 94.9 871.7 C 93.9 875.7 92.9 878.7 95.9 880.2 L 99.9 879.7" stroke="#5a2e18" stroke-width="1.1" fill="none" opacity="0.55"/><path d="M 91.9 884.7 L 101.9 884.7" stroke="#5a2e18" stroke-width="1" opacity="0.45"/><path d="M 75.2 861.6 C 71.7 848.6 76.2 838.6 93.9 838.6 C 117.6 838.6 121.1 844.6 119.1 863.6 C 117.6 860.6 115.6 857.6 111.6 857.6 C 98.9 858.6 90.9 866.6 84.2 866.6 C 79.2 866.6 76.7 864.6 75.2 861.6 Z" fill="#1e3540"/><rect x="185.5" y="830" width="3.2" height="20.6" fill="#1a2e38"/><rect x="185.9" y="812.5" width="2.4" height="18" fill="#34484f" opacity="0.8"/><path d="M 156.5 901.6 C 157.0 893.5 162.5 889.5 171.5 888.0 L 178.9 885.5 L 196.9 885.5 L 200.9 888.0 C 209.9 889.5 215.4 893.5 215.9 901.6 Z" fill="#d6895a"/><path d="M 177.4 875.4 L 198.4 875.4 L 196.9 893 L 178.9 893 Z" fill="#c8794b"/><path d="M 187.9 893.5 L 187.9 901.6" stroke="#a5603a" stroke-width="0.9" opacity="0.5"/><ellipse cx="172.1" cy="869.9" rx="3" ry="5.5" fill="#c47548"/><ellipse cx="203.6" cy="869.9" rx="3" ry="5.5" fill="#c47548"/><path d="M 173.3 857.6 L 202.4 857.6 L 202.4 876.4 C 202.4 885.4 195.9 889.4 187.9 889.4 C 179.9 889.4 173.3 885.4 173.3 876.4 Z" fill="#d98c5c" stroke="#a5603a" stroke-width="0.8"/><path d="M 176.9 866.4 L 184.9 866.4 M 190.9 866.4 L 198.9 866.4" stroke="#5a2e18" stroke-width="1.8" stroke-linecap="round" opacity="0.85"/><path d="M 185.9 868.4 C 184.9 872.4 183.9 875.4 186.9 876.9 L 190.9 876.4" stroke="#5a2e18" stroke-width="1.1" fill="none" opacity="0.55"/><path d="M 182.9 881.4 L 192.9 881.4" stroke="#5a2e18" stroke-width="1" opacity="0.45"/><path d="M 171.9 866.6 C 171.4 853.6 178.85000000000002 847.6 187.85000000000002 847.6 C 196.85000000000002 847.6 204.3 853.6 203.8 866.6 C 202.3 862.6 199.8 860.6 196.8 861.6 C 191.85000000000002 864.1 184.85000000000002 860.6 179.85000000000002 861.1 C 175.9 861.6 173.4 863.1 171.9 866.6 Z" fill="#1e3540"/><rect x="247.7" y="830" width="3.2" height="20.0" fill="#1a2e38"/><rect x="248.1" y="812.5" width="2.4" height="18" fill="#34484f" opacity="0.8"/><path d="M 219.0 901.6 C 219.5 893.5 225.0 889.5 234.0 888.0 L 238.9 885.5 L 256.9 885.5 L 260.3 888.0 C 269.3 889.5 274.8 893.5 275.3 901.6 Z" fill="#d6895a"/><path d="M 237.4 875.4 L 258.4 875.4 L 256.9 893 L 238.9 893 Z" fill="#c8794b"/><path d="M 247.9 893.5 L 247.9 901.6" stroke="#a5603a" stroke-width="0.9" opacity="0.5"/><ellipse cx="232.8" cy="869.9" rx="3" ry="5.5" fill="#c47548"/><ellipse cx="263.0" cy="869.9" rx="3" ry="5.5" fill="#c47548"/><path d="M 234.0 857.0 L 261.8 857.0 L 261.8 876.4 C 261.8 885.4 255.9 889.4 247.9 889.4 C 239.9 889.4 234.0 885.4 234.0 876.4 Z" fill="#d98c5c" stroke="#a5603a" stroke-width="0.8"/><path d="M 236.9 866.4 L 244.9 866.4 M 250.9 866.4 L 258.9 866.4" stroke="#5a2e18" stroke-width="1.8" stroke-linecap="round" opacity="0.85"/><path d="M 245.9 868.4 C 244.9 872.4 243.9 875.4 246.9 876.9 L 250.9 876.4" stroke="#5a2e18" stroke-width="1.1" fill="none" opacity="0.55"/><path d="M 242.9 881.4 L 252.9 881.4" stroke="#5a2e18" stroke-width="1" opacity="0.45"/><path d="M 232.6 866 C 232.1 853 238.89999999999998 847 247.89999999999998 847 C 256.9 847 263.7 853 263.2 866 C 261.7 862 259.2 860 256.2 861 C 251.89999999999998 863.5 244.89999999999998 860 239.89999999999998 860.5 C 236.6 861 234.1 862.5 232.6 866 Z" fill="#1e3540"/><rect x="305.8" y="830" width="3.2" height="21.6" fill="#1a2e38"/><rect x="306.2" y="812.5" width="2.4" height="18" fill="#34484f" opacity="0.8"/><path d="M 279.0 901.6 C 279.5 893.5 285.0 889.5 294.0 888.0 L 298.2 885.5 L 316.2 885.5 L 319.6 888.0 C 328.6 889.5 334.1 893.5 334.6 901.6 Z" fill="#4b9ad8"/><path d="M 296.8 877.2 L 317.8 877.2 L 316.2 893 L 298.2 893 Z" fill="#3a86c8"/><path d="M 307.2 893.5 L 307.2 901.6" stroke="#2d6eae" stroke-width="0.9" opacity="0.5"/><ellipse cx="291.2" cy="871.7" rx="3" ry="5.5" fill="#3b82c2"/><ellipse cx="323.2" cy="871.7" rx="3" ry="5.5" fill="#3b82c2"/><path d="M 292.4 858.6 L 322.1 858.6 L 322.1 878.2 C 322.1 887.2 315.2 891.2 307.2 891.2 C 299.2 891.2 292.4 887.2 292.4 878.2 Z" fill="#4891d2" stroke="#2d6eae" stroke-width="0.8"/><path d="M 296.2 868.2 L 304.2 868.2 M 310.2 868.2 L 318.2 868.2" stroke="#1f4f86" stroke-width="1.8" stroke-linecap="round" opacity="0.85"/><path d="M 305.2 870.2 C 304.2 874.2 303.2 877.2 306.2 878.7 L 310.2 878.2" stroke="#1f4f86" stroke-width="1.1" fill="none" opacity="0.55"/><path d="M 302.2 883.2 L 312.2 883.2" stroke="#1f4f86" stroke-width="1" opacity="0.45"/><path d="M 287.3 865.6 L 289.3 851.6 C 293.3 848.6 302.25 849.6 307.25 849.1 C 312.25 849.6 321.2 848.6 325.2 851.6 L 327.2 865.6 C 323.2 860.6 311.25 861.6 307.25 865.1 C 303.25 861.6 291.3 860.6 287.3 865.6 Z" fill="#1e3540"/><rect x="365.3" y="830" width="3.2" height="18.2" fill="#1a2e38"/><rect x="365.7" y="812.5" width="2.4" height="18" fill="#34484f" opacity="0.8"/><path d="M 337.8 901.6 C 338.3 893.5 343.8 889.5 352.8 888.0 L 358.1 885.5 L 376.1 885.5 L 380.3 888.0 C 389.3 889.5 394.8 893.5 395.3 901.6 Z" fill="#d6895a"/><path d="M 356.6 878.2 L 377.6 878.2 L 376.1 893 L 358.1 893 Z" fill="#c8794b"/><path d="M 367.1 893.5 L 367.1 901.6" stroke="#a5603a" stroke-width="0.9" opacity="0.5"/><ellipse cx="350.4" cy="872.7" rx="3" ry="5.5" fill="#c47548"/><ellipse cx="383.8" cy="872.7" rx="3" ry="5.5" fill="#c47548"/><path d="M 351.6 855.2 L 382.6 855.2 L 382.6 879.2 C 382.6 888.2 375.1 892.2 367.1 892.2 C 359.1 892.2 351.6 888.2 351.6 879.2 Z" fill="#d98c5c" stroke="#a5603a" stroke-width="0.8"/><path d="M 356.1 869.2 L 364.1 869.2 M 370.1 869.2 L 378.1 869.2" stroke="#5a2e18" stroke-width="1.8" stroke-linecap="round" opacity="0.85"/><path d="M 365.1 871.2 C 364.1 875.2 363.1 878.2 366.1 879.7 L 370.1 879.2" stroke="#5a2e18" stroke-width="1.1" fill="none" opacity="0.55"/><path d="M 362.1 884.2 L 372.1 884.2" stroke="#5a2e18" stroke-width="1" opacity="0.45"/><path d="M 349.5 864.2 C 349.0 851.2 358.1 845.2 367.1 845.2 C 376.1 845.2 385.2 851.2 384.7 864.2 C 383.2 860.2 380.7 858.2 377.7 859.2 C 371.1 861.7 364.1 858.2 359.1 858.7 C 353.5 859.2 351.0 860.7 349.5 864.2 Z" fill="#1e3540"/><rect x="424.3" y="830" width="3.2" height="21.2" fill="#1a2e38"/><rect x="424.7" y="812.5" width="2.4" height="18" fill="#34484f" opacity="0.8"/><path d="M 398.1 901.6 C 398.6 893.5 404.1 889.5 413.1 888.0 L 417.6 885.5 L 435.6 885.5 L 439.7 888.0 C 448.7 889.5 454.2 893.5 454.7 901.6 Z" fill="#d6895a"/><path d="M 416.1 877.2 L 437.1 877.2 L 435.6 893 L 417.6 893 Z" fill="#c8794b"/><path d="M 426.6 893.5 L 426.6 901.6" stroke="#a5603a" stroke-width="0.9" opacity="0.5"/><ellipse cx="411.2" cy="871.7" rx="3" ry="5.5" fill="#c47548"/><ellipse cx="442.1" cy="871.7" rx="3" ry="5.5" fill="#c47548"/><path d="M 412.4 858.2 L 440.9 858.2 L 440.9 878.2 C 440.9 887.2 434.6 891.2 426.6 891.2 C 418.6 891.2 412.4 887.2 412.4 878.2 Z" fill="#d98c5c" stroke="#a5603a" stroke-width="0.8"/><path d="M 415.6 868.2 L 423.6 868.2 M 429.6 868.2 L 437.6 868.2" stroke="#5a2e18" stroke-width="1.8" stroke-linecap="round" opacity="0.85"/><path d="M 424.6 870.2 C 423.6 874.2 422.6 877.2 425.6 878.7 L 429.6 878.2" stroke="#5a2e18" stroke-width="1.1" fill="none" opacity="0.55"/><path d="M 421.6 883.2 L 431.6 883.2" stroke="#5a2e18" stroke-width="1" opacity="0.45"/><path d="M 411 867.2 C 410.5 854.2 417.65 848.2 426.65 848.2 C 435.65 848.2 442.8 854.2 442.3 867.2 C 440.8 863.2 438.3 861.2 435.3 862.2 C 430.65 864.7 423.65 861.2 418.65 861.7 C 415 862.2 412.5 863.7 411 867.2 Z" fill="#1e3540"/><rect x="491.1" y="830" width="3.2" height="21.2" fill="#1a2e38"/><rect x="491.5" y="812.5" width="2.4" height="18" fill="#34484f" opacity="0.8"/><path d="M 462.1 901.6 C 462.6 893.5 468.1 889.5 477.1 888.0 L 482.3 885.5 L 500.3 885.5 L 506.5 888.0 C 515.5 889.5 521.0 893.5 521.5 901.6 Z" fill="#d6895a"/><path d="M 480.8 878.2 L 501.8 878.2 L 500.3 893 L 482.3 893 Z" fill="#c8794b"/><path d="M 491.3 893.5 L 491.3 901.6" stroke="#a5603a" stroke-width="0.9" opacity="0.5"/><ellipse cx="476.2" cy="872.7" rx="3" ry="5.5" fill="#c47548"/><ellipse cx="506.4" cy="872.7" rx="3" ry="5.5" fill="#c47548"/><path d="M 477.4 858.2 L 505.2 858.2 L 505.2 879.2 C 505.2 888.2 499.3 892.2 491.3 892.2 C 483.3 892.2 477.4 888.2 477.4 879.2 Z" fill="#d98c5c" stroke="#a5603a" stroke-width="0.8"/><path d="M 480.3 869.2 L 488.3 869.2 M 494.3 869.2 L 502.3 869.2" stroke="#5a2e18" stroke-width="1.8" stroke-linecap="round" opacity="0.85"/><path d="M 489.3 871.2 C 488.3 875.2 487.3 878.2 490.3 879.7 L 494.3 879.2" stroke="#5a2e18" stroke-width="1.1" fill="none" opacity="0.55"/><path d="M 486.3 884.2 L 496.3 884.2" stroke="#5a2e18" stroke-width="1" opacity="0.45"/><path d="M 476 867.2 C 475.5 854.2 482.3 848.2 491.3 848.2 C 500.3 848.2 507.1 854.2 506.6 867.2 C 505.1 863.2 502.6 861.2 499.6 862.2 C 495.3 864.7 488.3 861.2 483.3 861.7 C 480 862.2 477.5 863.7 476 867.2 Z" fill="#1e3540"/><rect x="563.6" y="830" width="3.2" height="20.6" fill="#1a2e38"/><rect x="564.0" y="812.5" width="2.4" height="18" fill="#34484f" opacity="0.8"/><path d="M 536.2 901.6 C 536.8 893.5 542.2 889.5 551.2 888.0 L 556.8 885.5 L 574.8 885.5 L 578.3 888.0 C 587.3 889.5 592.8 893.5 593.3 901.6 Z" fill="#4b9ad8"/><path d="M 555.2 877.0 L 576.2 877.0 L 574.8 893 L 556.8 893 Z" fill="#3a86c8"/><path d="M 565.8 893.5 L 565.8 901.6" stroke="#2d6eae" stroke-width="0.9" opacity="0.5"/><ellipse cx="550.1" cy="871.5" rx="3" ry="5.5" fill="#3b82c2"/><ellipse cx="581.4" cy="871.5" rx="3" ry="5.5" fill="#3b82c2"/><path d="M 551.3 857.6 L 580.2 857.6 L 580.2 878.0 C 580.2 887.0 573.8 891.0 565.8 891.0 C 557.8 891.0 551.3 887.0 551.3 878.0 Z" fill="#4891d2" stroke="#2d6eae" stroke-width="0.8"/><path d="M 554.8 868.0 L 562.8 868.0 M 568.8 868.0 L 576.8 868.0" stroke="#1f4f86" stroke-width="1.8" stroke-linecap="round" opacity="0.85"/><path d="M 563.8 870.0 C 562.8 874.0 561.8 877.0 564.8 878.5 L 568.8 878.0" stroke="#1f4f86" stroke-width="1.1" fill="none" opacity="0.55"/><path d="M 560.8 883.0 L 570.8 883.0" stroke="#1f4f86" stroke-width="1" opacity="0.45"/><path d="M 549.9 866.6 C 549.9 852.6 556.75 847.6 565.75 847.6 C 574.75 847.6 581.6 852.6 581.6 866.6 C 578.6 859.6 570.75 858.6 565.75 864.6 C 560.75 858.6 552.9 859.6 549.9 866.6 Z" fill="#1e3540"/><rect x="627.7" y="830" width="3.2" height="13.2" fill="#1a2e38"/><rect x="628.1" y="812.5" width="2.4" height="18" fill="#34484f" opacity="0.8"/><path d="M 600.1 901.6 C 600.6 893.5 606.1 889.5 615.1 888.0 L 620.3 885.5 L 638.3 885.5 L 642.2 888.0 C 651.2 889.5 656.7 893.5 657.2 901.6 Z" fill="#d6895a"/><path d="M 618.8 878.2 L 639.8 878.2 L 638.3 893 L 620.3 893 Z" fill="#c8794b"/><path d="M 629.3 893.5 L 629.3 901.6" stroke="#a5603a" stroke-width="0.9" opacity="0.5"/><ellipse cx="612.3" cy="872.7" rx="3" ry="5.5" fill="#c47548"/><ellipse cx="646.3" cy="872.7" rx="3" ry="5.5" fill="#c47548"/><path d="M 613.5 854.2 L 645.1 854.2 L 645.1 879.2 C 645.1 888.2 637.3 892.2 629.3 892.2 C 621.3 892.2 613.5 888.2 613.5 879.2 Z" fill="#d98c5c" stroke="#a5603a" stroke-width="0.8"/><path d="M 618.3 869.2 L 626.3 869.2 M 632.3 869.2 L 640.3 869.2" stroke="#5a2e18" stroke-width="1.8" stroke-linecap="round" opacity="0.85"/><path d="M 627.3 871.2 C 626.3 875.2 625.3 878.2 628.3 879.7 L 632.3 879.2" stroke="#5a2e18" stroke-width="1.1" fill="none" opacity="0.55"/><path d="M 624.3 884.2 L 634.3 884.2" stroke="#5a2e18" stroke-width="1" opacity="0.45"/><path d="M 610.6 863.2 C 607.1 850.2 611.6 840.2 626.3 840.2 C 647 840.2 650.5 846.2 648.5 865.2 C 647 862.2 645 859.2 641 859.2 C 631.3 860.2 623.3 865.7 619.6 865.7 C 614.6 865.7 612.1 863.7 610.6 863.2 Z" fill="#1e3540"/><rect x="687.4" y="830" width="3.2" height="13.2" fill="#1a2e38"/><rect x="687.8" y="812.5" width="2.4" height="18" fill="#34484f" opacity="0.8"/><path d="M 660.4 901.6 C 660.9 893.5 666.4 889.5 675.4 888.0 L 677.7 885.5 L 695.7 885.5 L 703.1 888.0 C 712.1 889.5 717.6 893.5 718.1 901.6 Z" fill="#d6895a"/><path d="M 676.2 878.2 L 697.2 878.2 L 695.7 893 L 677.7 893 Z" fill="#c8794b"/><path d="M 686.7 893.5 L 686.7 901.6" stroke="#a5603a" stroke-width="0.9" opacity="0.5"/><ellipse cx="669.7" cy="872.7" rx="3" ry="5.5" fill="#c47548"/><ellipse cx="703.7" cy="872.7" rx="3" ry="5.5" fill="#c47548"/><path d="M 670.9 854.2 L 702.5 854.2 L 702.5 879.2 C 702.5 888.2 694.7 892.2 686.7 892.2 C 678.7 892.2 670.9 888.2 670.9 879.2 Z" fill="#d98c5c" stroke="#a5603a" stroke-width="0.8"/><path d="M 675.7 869.2 L 683.7 869.2 M 689.7 869.2 L 697.7 869.2" stroke="#5a2e18" stroke-width="1.8" stroke-linecap="round" opacity="0.85"/><path d="M 684.7 871.2 C 683.7 875.2 682.7 878.2 685.7 879.7 L 689.7 879.2" stroke="#5a2e18" stroke-width="1.1" fill="none" opacity="0.55"/><path d="M 681.7 884.2 L 691.7 884.2" stroke="#5a2e18" stroke-width="1" opacity="0.45"/><path d="M 669 863.2 C 665.5 850.2 670 840.2 683.7 840.2 C 703.4 840.2 706.9 846.2 704.9 865.2 C 703.4 862.2 701.4 859.2 697.4 859.2 C 688.7 860.2 680.7 865.7 678 865.7 C 673 865.7 670.5 863.7 669 863.2 Z" fill="#1e3540"/><rect x="752.2" y="830" width="3.2" height="20.1" fill="#1a2e38"/><rect x="752.6" y="812.5" width="2.4" height="18" fill="#34484f" opacity="0.8"/><path d="M 722.2 901.6 C 722.7 893.5 728.2 889.5 737.2 888.0 L 744.0 885.5 L 762.0 885.5 L 765.3 888.0 C 774.3 889.5 779.8 893.5 780.3 901.6 Z" fill="#d6895a"/><path d="M 742.5 877.2 L 763.5 877.2 L 762.0 893 L 744.0 893 Z" fill="#c8794b"/><path d="M 753.0 893.5 L 753.0 901.6" stroke="#a5603a" stroke-width="0.9" opacity="0.5"/><ellipse cx="736.9" cy="871.7" rx="3" ry="5.5" fill="#c47548"/><ellipse cx="769.0" cy="871.7" rx="3" ry="5.5" fill="#c47548"/><path d="M 738.1 857.1 L 767.8 857.1 L 767.8 878.2 C 767.8 887.2 761.0 891.2 753.0 891.2 C 745.0 891.2 738.1 887.2 738.1 878.2 Z" fill="#d98c5c" stroke="#a5603a" stroke-width="0.8"/><path d="M 742.0 868.2 L 750.0 868.2 M 756.0 868.2 L 764.0 868.2" stroke="#5a2e18" stroke-width="1.8" stroke-linecap="round" opacity="0.85"/><path d="M 751.0 870.2 C 750.0 874.2 749.0 877.2 752.0 878.7 L 756.0 878.2" stroke="#5a2e18" stroke-width="1.1" fill="none" opacity="0.55"/><path d="M 748.0 883.2 L 758.0 883.2" stroke="#5a2e18" stroke-width="1" opacity="0.45"/><path d="M 736.7 866.1 C 736.2 853.1 743.95 847.1 752.95 847.1 C 761.95 847.1 769.7 853.1 769.2 866.1 C 767.7 862.1 765.2 860.1 762.2 861.1 C 756.95 863.6 749.95 860.1 744.95 860.6 C 740.7 861.1 738.2 862.6 736.7 866.1 Z" fill="#1e3540"/><rect x="813.0" y="830" width="3.2" height="13.2" fill="#1a2e38"/><rect x="813.4" y="812.5" width="2.4" height="18" fill="#34484f" opacity="0.8"/><path d="M 783.1 901.6 C 783.6 893.5 789.1 889.5 798.1 888.0 L 801.0 885.5 L 819.0 885.5 L 823.8 888.0 C 832.8 889.5 838.3 893.5 838.8 901.6 Z" fill="#d6895a"/><path d="M 799.5 878.2 L 820.5 878.2 L 819.0 893 L 801.0 893 Z" fill="#c8794b"/><path d="M 810.0 893.5 L 810.0 901.6" stroke="#a5603a" stroke-width="0.9" opacity="0.5"/><ellipse cx="793.0" cy="872.7" rx="3" ry="5.5" fill="#c47548"/><ellipse cx="827.0" cy="872.7" rx="3" ry="5.5" fill="#c47548"/><path d="M 794.2 854.2 L 825.8 854.2 L 825.8 879.2 C 825.8 888.2 818.0 892.2 810.0 892.2 C 802.0 892.2 794.2 888.2 794.2 879.2 Z" fill="#d98c5c" stroke="#a5603a" stroke-width="0.8"/><path d="M 799.0 869.2 L 807.0 869.2 M 813.0 869.2 L 821.0 869.2" stroke="#5a2e18" stroke-width="1.8" stroke-linecap="round" opacity="0.85"/><path d="M 808.0 871.2 C 807.0 875.2 806.0 878.2 809.0 879.7 L 813.0 879.2" stroke="#5a2e18" stroke-width="1.1" fill="none" opacity="0.55"/><path d="M 805.0 884.2 L 815.0 884.2" stroke="#5a2e18" stroke-width="1" opacity="0.45"/><path d="M 790.6 863.2 C 787.1 850.2 791.6 840.2 807.0 840.2 C 828.4 840.2 831.9 846.2 829.9 865.2 C 828.4 862.2 826.4 859.2 822.4 859.2 C 812.0 860.2 804.0 865.7 799.6 865.7 C 794.6 865.7 792.1 863.7 790.6 863.2 Z" fill="#1e3540"/><rect x="871.5" y="830" width="3.2" height="13.2" fill="#1a2e38"/><rect x="871.9" y="812.5" width="2.4" height="18" fill="#34484f" opacity="0.8"/><path d="M 842.1 901.6 C 842.6 893.5 848.1 889.5 857.1 888.0 L 861.8 885.5 L 879.8 885.5 L 884.1 888.0 C 893.1 889.5 898.6 893.5 899.1 901.6 Z" fill="#d6895a"/><path d="M 860.2 878.2 L 881.2 878.2 L 879.8 893 L 861.8 893 Z" fill="#c8794b"/><path d="M 870.8 893.5 L 870.8 901.6" stroke="#a5603a" stroke-width="0.9" opacity="0.5"/><ellipse cx="853.8" cy="872.7" rx="3" ry="5.5" fill="#c47548"/><ellipse cx="887.8" cy="872.7" rx="3" ry="5.5" fill="#c47548"/><path d="M 855.0 854.2 L 886.5 854.2 L 886.5 879.2 C 886.5 888.2 878.8 892.2 870.8 892.2 C 862.8 892.2 855.0 888.2 855.0 879.2 Z" fill="#d98c5c" stroke="#a5603a" stroke-width="0.8"/><path d="M 859.8 869.2 L 867.8 869.2 M 873.8 869.2 L 881.8 869.2" stroke="#5a2e18" stroke-width="1.8" stroke-linecap="round" opacity="0.85"/><path d="M 868.8 871.2 C 867.8 875.2 866.8 878.2 869.8 879.7 L 873.8 879.2" stroke="#5a2e18" stroke-width="1.1" fill="none" opacity="0.55"/><path d="M 865.8 884.2 L 875.8 884.2" stroke="#5a2e18" stroke-width="1" opacity="0.45"/><path d="M 850.9 863.2 C 847.4 850.2 851.9 840.2 867.75 840.2 C 889.6 840.2 893.1 846.2 891.1 865.2 C 889.6 862.2 887.6 859.2 883.6 859.2 C 872.75 860.2 864.75 865.7 859.9 865.7 C 854.9 865.7 852.4 863.7 850.9 863.2 Z" fill="#1e3540"/><rect x="930.9" y="830" width="3.2" height="13.6" fill="#1a2e38"/><rect x="931.3" y="812.5" width="2.4" height="18" fill="#34484f" opacity="0.8"/><path d="M 902.5 901.6 C 903.0 893.5 908.5 889.5 917.5 888.0 L 919.5 885.5 L 937.5 885.5 L 944.7 888.0 C 953.7 889.5 959.2 893.5 959.7 901.6 Z" fill="#d6895a"/><path d="M 918.0 878.2 L 939.0 878.2 L 937.5 893 L 919.5 893 Z" fill="#c8794b"/><path d="M 928.5 893.5 L 928.5 901.6" stroke="#a5603a" stroke-width="0.9" opacity="0.5"/><ellipse cx="911.5" cy="872.7" rx="3" ry="5.5" fill="#c47548"/><ellipse cx="945.5" cy="872.7" rx="3" ry="5.5" fill="#c47548"/><path d="M 912.8 854.6 L 944.3 854.6 L 944.3 879.2 C 944.3 888.2 936.5 892.2 928.5 892.2 C 920.5 892.2 912.8 888.2 912.8 879.2 Z" fill="#d98c5c" stroke="#a5603a" stroke-width="0.8"/><path d="M 917.5 869.2 L 925.5 869.2 M 931.5 869.2 L 939.5 869.2" stroke="#5a2e18" stroke-width="1.8" stroke-linecap="round" opacity="0.85"/><path d="M 926.5 871.2 C 925.5 875.2 924.5 878.2 927.5 879.7 L 931.5 879.2" stroke="#5a2e18" stroke-width="1.1" fill="none" opacity="0.55"/><path d="M 923.5 884.2 L 933.5 884.2" stroke="#5a2e18" stroke-width="1" opacity="0.45"/><path d="M 909.9 863.6 C 906.4 850.6 910.9 840.6 925.55 840.6 C 946.2 840.6 949.7 846.6 947.7 865.6 C 946.2 862.6 944.2 859.6 940.2 859.6 C 930.55 860.6 922.55 866.1 918.9 866.1 C 913.9 866.1 911.4 864.1 909.9 863.6 Z" fill="#1e3540"/></svg>
<div class="r" style="left:65.5px;top:908.6px;width:63.1px;height:24.9px;background:#e8595a;border-radius:4.0px;"></div>
<div class="t" style="left:73.83px;top:916.05px;font-size:10.27px;line-height:11.472px;color:#ffffff;transform:scaleX(0.7044);">Deseauilanas</div>
<div class="r" style="left:155.5px;top:908.6px;width:60.5px;height:24.9px;background:#3f9fdb;border-radius:4.0px;"></div>
<div class="t" style="left:166.01px;top:916.05px;font-size:10.27px;line-height:11.472px;color:#ffffff;transform:scaleX(0.7406);">turlsleurna</div>
<div class="r" style="left:220.0px;top:908.6px;width:55.0px;height:24.9px;background:#3f9fdb;border-radius:4.0px;"></div>
<div class="t" style="left:238.54px;top:916.05px;font-size:10.27px;line-height:11.472px;color:#ffffff;transform:scaleX(0.9917);">lalo</div>
<div class="r" style="left:278.9px;top:908.6px;width:54.6px;height:24.9px;background:#3f9fdb;border-radius:4.0px;"></div>
<div class="t" style="left:285.81px;top:916.05px;font-size:10.27px;line-height:11.472px;color:#ffffff;transform:scaleX(0.7420);">resnlcdosa</div>
<div class="r" style="left:338.0px;top:908.6px;width:56.4px;height:24.9px;background:#e8595a;border-radius:4.0px;"></div>
<div class="t" style="left:342.58px;top:916.05px;font-size:10.27px;line-height:11.472px;color:#ffffff;transform:scaleX(0.8013);">raousoultsa</div>
<div class="r" style="left:399.0px;top:908.6px;width:55.9px;height:24.9px;background:#efb55e;border-radius:4.0px;"></div>
<div class="t" style="left:410.96px;top:916.05px;font-size:10.27px;line-height:11.472px;color:#ffffff;transform:scaleX(0.8260);">eaulnsa</div>
<div class="r" style="left:460.0px;top:908.6px;width:65.2px;height:24.9px;background:#3f9fdb;border-radius:4.0px;"></div>
<div class="t" style="left:468.33px;top:916.05px;font-size:10.27px;line-height:11.472px;color:#ffffff;transform:scaleX(0.7698);">resnesteiaso</div>
<div class="r" style="left:535.4px;top:908.6px;width:58.4px;height:24.9px;background:#3f9fdb;border-radius:4.0px;"></div>
<div class="t" style="left:540.13px;top:916.05px;font-size:10.27px;line-height:11.472px;color:#ffffff;transform:scaleX(0.8540);">rasulcteoas</div>
<div class="r" style="left:598.9px;top:908.6px;width:57.9px;height:24.9px;background:#5aa862;border-radius:4.0px;"></div>
<div class="t" style="left:608.17px;top:916.05px;font-size:10.27px;line-height:11.472px;color:#ffffff;transform:scaleX(0.7951);">lesuueeze</div>
<div class="r" style="left:661.0px;top:908.6px;width:56.0px;height:24.9px;background:#5aa862;border-radius:4.0px;"></div>
<div class="t" style="left:669.99px;top:916.05px;font-size:10.27px;line-height:11.472px;color:#ffffff;transform:scaleX(0.8548);">raeuleesl</div>
<div class="r" style="left:722.0px;top:908.6px;width:57.4px;height:24.9px;background:#efb55e;border-radius:4.0px;"></div>
<div class="t" style="left:727.19px;top:915.52px;font-size:10.86px;line-height:12.127px;color:#ffffff;transform:scaleX(0.7181);">Resoaoooso</div>
<div class="r" style="left:783.2px;top:908.6px;width:55.3px;height:24.9px;background:#efb55e;border-radius:4.0px;"></div>
<div class="t" style="left:790.94px;top:916.05px;font-size:10.27px;line-height:11.472px;color:#ffffff;transform:scaleX(0.6901);">eeuheuraoe</div>
<div class="r" style="left:842.8px;top:908.6px;width:55.9px;height:24.9px;background:#e8595a;border-radius:4.0px;"></div>
<div class="t" style="left:848.89px;top:916.05px;font-size:10.27px;line-height:11.472px;color:#ffffff;transform:scaleX(0.8186);">eeoeleioou</div>
<div class="r" style="left:902.5px;top:908.6px;width:57.2px;height:24.9px;background:#e8595a;border-radius:4.0px;"></div>
<div class="t" style="left:910.03px;top:916.05px;font-size:10.27px;line-height:11.472px;color:#ffffff;transform:scaleX(0.7756);">resoeleeoa</div>
<svg class="r" style="left:125px;top:808px" width="64" height="130" viewBox="125 808 64 130"><path d="M 156 811 L 160 811 C 176 811 186 822 186 837 C 186 852 176 864 160 864 L 156 864 Z" fill="#f7fafc"/><path d="M 158 813 L 160 813 C 174 813 182.5 824 182.5 837 C 182.5 850 174 861.5 160 861.5 L 158 861.5 Z" fill="#48a3dc"/><circle cx="159.5" cy="838.5" r="7" fill="#f7fafc"/><path d="M 151 846 C 147 842 141 843 138 844 C 132 846 129.5 851 130 856 C 131 864 138 869 146 869 L 151 869 Z" fill="#e9605b"/><path d="M 133.6 871.5 C 139 872.5 145 872.5 150.3 871 L 150.3 930.5 C 150.3 932.5 149 933.6 147 933.6 L 137 933.6 C 135 933.6 133.6 932.5 133.6 930.5 Z" fill="#4eaa5a"/></svg>
<div class="r" style="left:178.1px;top:949px;width:17px;height:17px;border-radius:50%;background:#e8605a"></div>
<div class="t" style="left:202.28px;top:950.41px;font-size:12.32px;line-height:13.760px;color:#1d3550;font-weight:normal;font-style:italic;transform:scaleX(0.8923);">hml pada peand locat</div>
<div class="r" style="left:350.2px;top:949px;width:17px;height:17px;border-radius:50%;background:#3ca3d8"></div>
<div class="t" style="left:372.66px;top:950.41px;font-size:12.32px;line-height:13.760px;color:#1d3550;font-weight:normal;font-style:italic;transform:scaleX(1.0774);">Aafter</div>
<div class="r" style="left:452.0px;top:949px;width:17px;height:17px;border-radius:50%;background:#6cb86c"></div>
<div class="t" style="left:474.24px;top:950.41px;font-size:12.32px;line-height:13.760px;color:#1d3550;font-weight:normal;font-style:italic;transform:scaleX(0.9717);">Frar anoalfis paelpmatica far ee eiaro paae.</div>
<div class="r" style="left:714.3px;top:949px;width:17px;height:17px;border-radius:50%;background:#6cb86c"></div>
<div class="t" style="left:738.97px;top:950.41px;font-size:12.32px;line-height:13.760px;color:#1d3550;font-weight:normal;font-style:italic;transform:scaleX(0.9261);">arain exbarnuk ofia</div>
</body></html>
